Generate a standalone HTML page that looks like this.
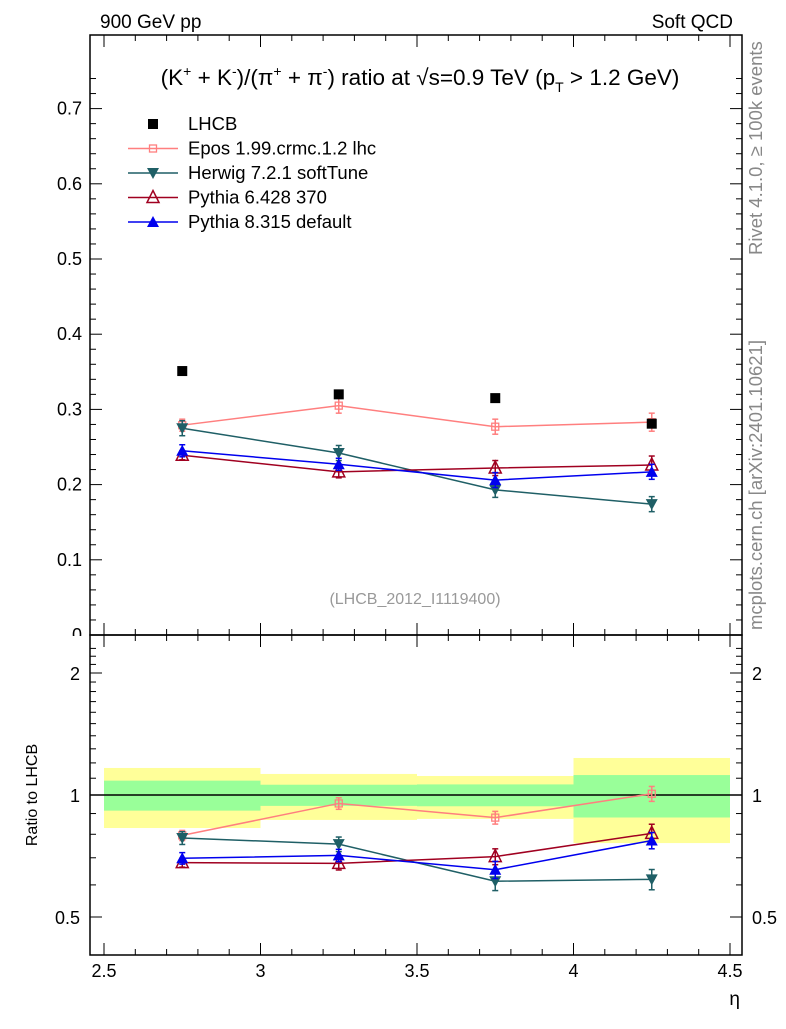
<!DOCTYPE html>
<html><head><meta charset="utf-8"><style>
body{margin:0;background:#fff;}
svg text{font-family:"Liberation Sans",sans-serif;}
</style></head><body>
<svg id="c" width="786" height="1024" xmlns="http://www.w3.org/2000/svg">
<text x="100" y="28" font-size="19">900 GeV pp</text>
<text x="733" y="28" font-size="19" text-anchor="end">Soft QCD</text>
<text x="420" y="85" font-size="22.5" text-anchor="middle">(K<tspan dy="-9" font-size="14">+</tspan><tspan dy="9"> + K</tspan><tspan dy="-9" font-size="14">-</tspan><tspan dy="9">)/(π</tspan><tspan dy="-9" font-size="14">+</tspan><tspan dy="9"> + π</tspan><tspan dy="-9" font-size="14">-</tspan><tspan dy="9">) ratio at √s=0.9 TeV (p</tspan><tspan dy="7" font-size="14">T</tspan><tspan dy="-7"> &gt; 1.2 GeV)</tspan></text>
<text transform="translate(762,255) rotate(-90)" font-size="18.5" fill="#888">Rivet 4.1.0, ≥ 100k events</text>
<text transform="translate(762,630) rotate(-90)" font-size="18.5" fill="#888">mcplots.cern.ch [arXiv:2401.10621]</text>
<text x="415" y="604" font-size="16" fill="#999" text-anchor="middle">(LHCB_2012_I1119400)</text>
<text transform="translate(37,795) rotate(-90)" font-size="16" text-anchor="middle">Ratio to LHCB</text>
<text x="740" y="1005" font-size="19" text-anchor="end">η</text>
<g id="g"></g>
</svg>
<script>
const categories=[2.75,3.25,3.75,4.25];
const binEdges=[2.5,3,3.5,4,4.5];
const lhcb=[0.351,0.320,0.315,0.281];
const bandStat=[0.085,0.06,0.062,0.12];
const bandTotUp=[0.166,0.127,0.114,0.234];
const bandTotDn=[0.171,0.132,0.127,0.239];
const epos=[0.279,0.305,0.277,0.283];
const eposErr=[0.008,0.01,0.01,0.012];
const herwig=[0.275,0.242,0.193,0.174];
const herwigErr=[0.01,0.01,0.01,0.01];
const py6=[0.239,0.217,0.222,0.226];
const py6Err=[0.006,0.008,0.01,0.012];
const py8=[0.245,0.227,0.206,0.217];
const py8Err=[0.008,0.008,0.01,0.01];
const mainTicks=[0.1,0.2,0.3,0.4,0.5,0.6,0.7];
const xTicks=[2.5,3,3.5,4,4.5];
const ratioTicks=[0.5,1,2];

const NS="http://www.w3.org/2000/svg",G=document.getElementById('g');
const L=90,R=742,T=35,MB=635,RB=955;
const X=v=>104+(v-2.5)*313;
const Y=v=>MB-v*752;
const YR=v=>795-Math.log2(v)*122;
function el(t,a,p){const e=document.createElementNS(NS,t);for(const k in a)e.setAttribute(k,a[k]);(p||G).appendChild(e);return e;}
for(let i=0;i<4;i++){
 let b=el('rect',{x:X(binEdges[i]),width:X(binEdges[i+1])-X(binEdges[i]),y:YR(1+bandTotUp[i]),height:YR(1-bandTotDn[i])-YR(1+bandTotUp[i]),fill:'#ffff99'});
 
 
 let s=el('rect',{x:X(binEdges[i]),width:X(binEdges[i+1])-X(binEdges[i]),y:YR(1+bandStat[i]),height:YR(1-bandStat[i])-YR(1+bandStat[i]),fill:'#99ff99'});
 
 
}
el('line',{x1:L,x2:R,y1:YR(1),y2:YR(1),stroke:'#000','stroke-width':1.5});
{const t=el('text',{x:L-8,y:641,'font-size':18,'text-anchor':'end'});t.textContent='0';
 }
el('rect',{x:L-20,y:MB+1,width:20,height:8,fill:'#fff'});
let f1=el('rect',{x:L,y:T,width:R-L,height:MB-T,fill:'none',stroke:'#000','stroke-width':1.5});

let f2=el('rect',{x:L,y:MB,width:R-L,height:RB-MB,fill:'none',stroke:'#000','stroke-width':1.5});

for(let v=0;v<=0.76;v+=0.02){const y=Y(v);if(y<T)break;const big=Math.abs(v*10-Math.round(v*10))<1e-6;const l=big?12:6;
 el('line',{x1:L,x2:L+l,y1:y,y2:y,stroke:'#000'});el('line',{x1:R,x2:R-l,y1:y,y2:y,stroke:'#000'});}
mainTicks.forEach(v=>{const t=el('text',{x:L-8,y:Y(v)+6,'font-size':18,'text-anchor':'end'});t.textContent=String(v);
 });
for(let v=0.5;v<=2.4;v+=0.1){const y=YR(v);const big=[0.5,1,2].some(b=>Math.abs(b-v)<1e-6);const l=big?12:6;
 el('line',{x1:L,x2:L+l,y1:y,y2:y,stroke:'#000'});el('line',{x1:R,x2:R-l,y1:y,y2:y,stroke:'#000'});}
ratioTicks.forEach(v=>{const t=el('text',{x:L-10,y:YR(v)+7,'font-size':18,'text-anchor':'end'});t.textContent=String(v);
 
 const t2=el('text',{x:R+10,y:YR(v)+7,'font-size':18});t2.textContent=String(v);
 });
for(let v=2.5;v<=4.501;v+=0.1){const x=X(v);const big=Math.abs(v*2-Math.round(v*2))<1e-6;const l=big?12:6;
 [[T,1],[MB,-1],[MB,1],[RB,-1]].forEach(([y0,d])=>el('line',{x1:x,x2:x,y1:y0,y2:y0+d*l,stroke:'#000'}));}
xTicks.forEach(v=>{const t=el('text',{x:X(v),y:977,'font-size':18,'text-anchor':'middle'});t.textContent=String(v);
 });
function marker(type,x,y,c,p){
 if(type==='sq')el('rect',{x:x-5,y:y-5,width:10,height:10,fill:c},p);
 if(type==='osq')el('rect',{x:x-3.5,y:y-3.5,width:7,height:7,fill:'none',stroke:c,'stroke-width':1.3},p);
 if(type==='dtri')el('polygon',{points:`${x-6},${y-5} ${x+6},${y-5} ${x},${y+6}`,fill:c},p);
 if(type==='otri')el('polygon',{points:`${x-6},${y+5} ${x+6},${y+5} ${x},${y-7}`,fill:'none',stroke:c,'stroke-width':1.5},p);
 if(type==='utri')el('polygon',{points:`${x-6},${y+5} ${x+6},${y+5} ${x},${y-6}`,fill:c},p);
}
function series(name,vals,errs,c,type,ratio){
 const g=el('g',{});
 
 
 const fy=ratio?(v,i)=>YR(v/lhcb[i]):(v)=>Y(v);
 el('polyline',{points:vals.map((v,i)=>X(categories[i])+','+fy(v,i)).join(' '),fill:'none',stroke:c,'stroke-width':1.5},g);
 vals.forEach((v,i)=>{const x=X(categories[i]);const y1=fy(v+errs[i],i),y2=fy(v-errs[i],i);
  el('line',{x1:x,x2:x,y1:y1,y2:y2,stroke:c,'stroke-width':1.5},g);
  el('line',{x1:x-3,x2:x+3,y1:y1,y2:y1,stroke:c,'stroke-width':1.5},g);
  el('line',{x1:x-3,x2:x+3,y1:y2,y2:y2,stroke:c,'stroke-width':1.5},g);
  marker(type,x,fy(v,i),c,g);});
}
[false,true].forEach(r=>{
 series('epos',epos,eposErr,'#ff7f7f','osq',r);
 series('herwig',herwig,herwigErr,'#1f5f66','dtri',r);
 series('pythia6',py6,py6Err,'#a00020','otri',r);
 series('pythia8',py8,py8Err,'#0000ee','utri',r);
});
lhcb.forEach((v,i)=>{const g=el('g',{});marker('sq',X(categories[i]),Y(v),'#000',g);});
const leg=[['LHCB','#000','sq',false],['Epos 1.99.crmc.1.2 lhc','#ff7f7f','osq',true],['Herwig 7.2.1 softTune','#1f5f66','dtri',true],['Pythia 6.428 370','#a00020','otri',true],['Pythia 8.315 default','#0000ee','utri',true]];
leg.forEach((l,i)=>{const y=124+i*24.5;const g=el('g',{});
 
 if(l[3])el('line',{x1:128,x2:178,y1:y,y2:y,stroke:l[1],'stroke-width':1.5},g);
 marker(l[2],153,y,l[1],g);
 const t=el('text',{x:188,y:y+6,'font-size':18.5},g);t.textContent=l[0];});
</script>
</body></html>
